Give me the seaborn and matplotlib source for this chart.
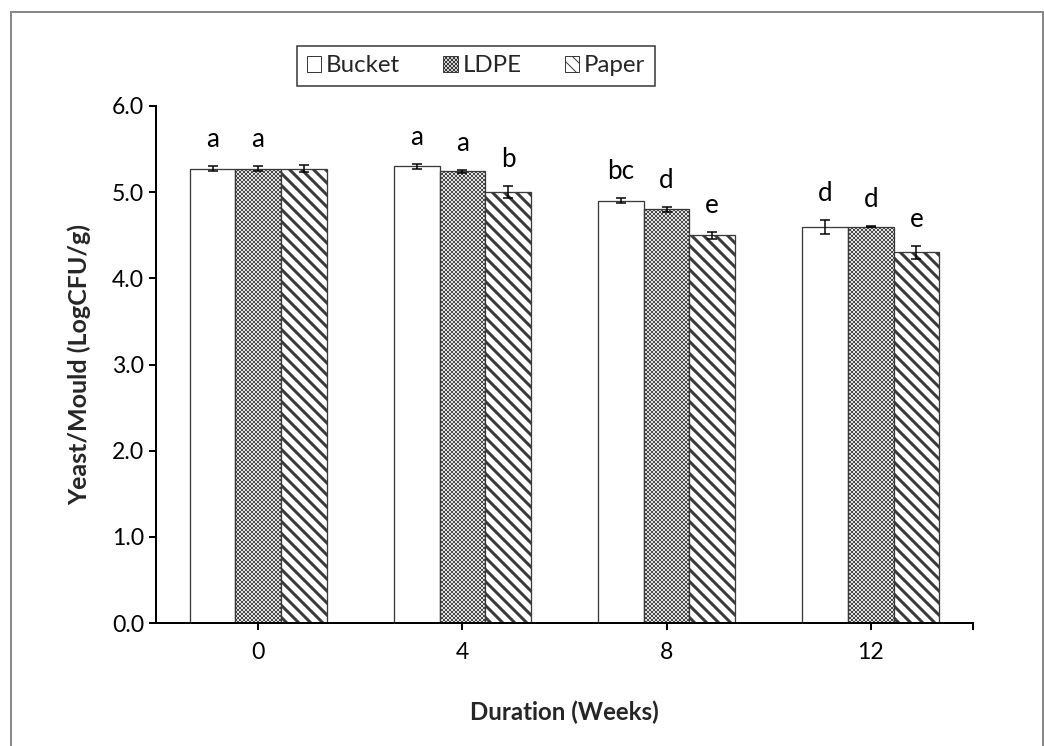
import numpy as np
import pandas as pd
import matplotlib
matplotlib.use("Agg")
import matplotlib.pyplot as plt
from matplotlib.patches import Rectangle, Patch
from matplotlib.ticker import FixedLocator
import seaborn as sns

# Storage durations and packaging types
weeks = ["0", "4", "8", "12"]
packaging = ["Bucket", "LDPE", "Paper"]

# Mean yeast/mould counts (LogCFU/g) per packaging type
bucket = [5.27, 5.30, 4.90, 4.60]
ldpe = [5.27, 5.24, 4.80, 4.60]
paper = [5.27, 5.00, 4.50, 4.30]

# Standard errors
bucket_err = [0.03, 0.03, 0.03, 0.08]
ldpe_err = [0.03, 0.02, 0.03, 0.01]
paper_err = [0.04, 0.07, 0.04, 0.07]

# Significance letters
bucket_sig = ["a", "a", "bc", "d"]
ldpe_sig = ["a", "a", "d", "d"]
paper_sig = ["", "b", "e", "e"]

sns.set_theme(style="white")
plt.rcParams["font.family"] = ["Lato", "DejaVu Sans"]

df = pd.DataFrame({
    "Duration": weeks * 3,
    "Packaging": [p for p in packaging for _ in weeks],
    "Value": bucket + ldpe + paper,
})
errs = [bucket_err, ldpe_err, paper_err]
sigs = [bucket_sig, ldpe_sig, paper_sig]

DPI = 72
fig = plt.figure(figsize=(1044 / DPI, 746 / DPI), dpi=DPI)
ax = fig.add_axes([156 / 1044, 123 / 746, 817 / 1044, 517 / 746])

edge = "#3a3a3a"
sns.barplot(
    data=df, x="Duration", y="Value", hue="Packaging", order=weeks,
    hue_order=packaging, palette=["white"] * 3, width=0.67,
    errorbar=None, edgecolor=edge, linewidth=1.3, legend=False, ax=ax,
)

hatches = [None, "xxxxxx", "\\\\"]
hatch_lw = [1.0, 0.75, 3.0]
for cont, h, hlw in zip(ax.containers, hatches, hatch_lw):
    for bar in cont:
        if h:
            bar.set_hatch(h)
            if hasattr(bar, "set_hatch_linewidth"):
                bar.set_hatch_linewidth(hlw)

# Error bars and significance letters above each bar
for cont, err, sig in zip(ax.containers, errs, sigs):
    xs = [b.get_x() + b.get_width() / 2 for b in cont]
    ys = [b.get_height() for b in cont]
    ax.errorbar(xs, ys, yerr=err, fmt="none", ecolor="black",
                elinewidth=1.5, capsize=5, capthick=1.5, zorder=5)
    for x, y, e, s in zip(xs, ys, err, sig):
        if s:
            ax.text(x, y + e + 0.22, s, ha="center", va="baseline",
                    fontsize=26, color="black")

ax.set_ylim(0, 6)
ax.set_xlim(-0.5, 3.5)
ax.set_yticks(np.arange(0, 6.01, 1.0))
ax.set_yticklabels([f"{v:.1f}" for v in np.arange(0, 6.01, 1.0)])
ax.xaxis.set_minor_locator(FixedLocator([3.5]))

for side in ["top", "right"]:
    ax.spines[side].set_visible(False)
for side in ["left", "bottom"]:
    ax.spines[side].set_color("black")
    ax.spines[side].set_linewidth(2)

ax.tick_params(axis="both", which="both", direction="out", length=7,
               width=2, color="black", labelsize=23, labelcolor="black",
               left=True, bottom=True)
ax.tick_params(axis="x", pad=12)
ax.tick_params(axis="y", pad=5)

ax.set_xlabel("Duration (Weeks)", fontsize=24, fontweight="bold", labelpad=38)
ax.set_ylabel("Yeast/Mould (LogCFU/g)", fontsize=25, fontweight="bold", labelpad=21)

handles = [
    Patch(facecolor="white", edgecolor=edge, linewidth=1.0),
    Patch(facecolor="white", edgecolor=edge, linewidth=1.0, hatch="xxxxxx"),
    Patch(facecolor="white", edgecolor=edge, linewidth=1.0, hatch="\\\\"),
]
if hasattr(handles[2], "set_hatch_linewidth"):
    handles[1].set_hatch_linewidth(0.75)
    handles[2].set_hatch_linewidth(3.0)
leg = fig.legend(
    handles, packaging, loc="center", bbox_to_anchor=(476 / 1044, 1 - 66 / 746),
    ncol=3, fontsize=24, frameon=True, fancybox=False, handlelength=0.6,
    handleheight=0.6, handletextpad=0.2, columnspacing=1.8,
    borderpad=0.4, borderaxespad=0,
)
leg.get_frame().set_edgecolor("black")
leg.get_frame().set_linewidth(1.5)

# Chart-area border
fig.add_artist(Rectangle((11 / 1044, -0.05), (1043 - 11) / 1044, 1.05 - 12 / 746,
                         transform=fig.transFigure, fill=False,
                         edgecolor="#888888", linewidth=2))

fig.savefig("out.png", dpi=DPI)
